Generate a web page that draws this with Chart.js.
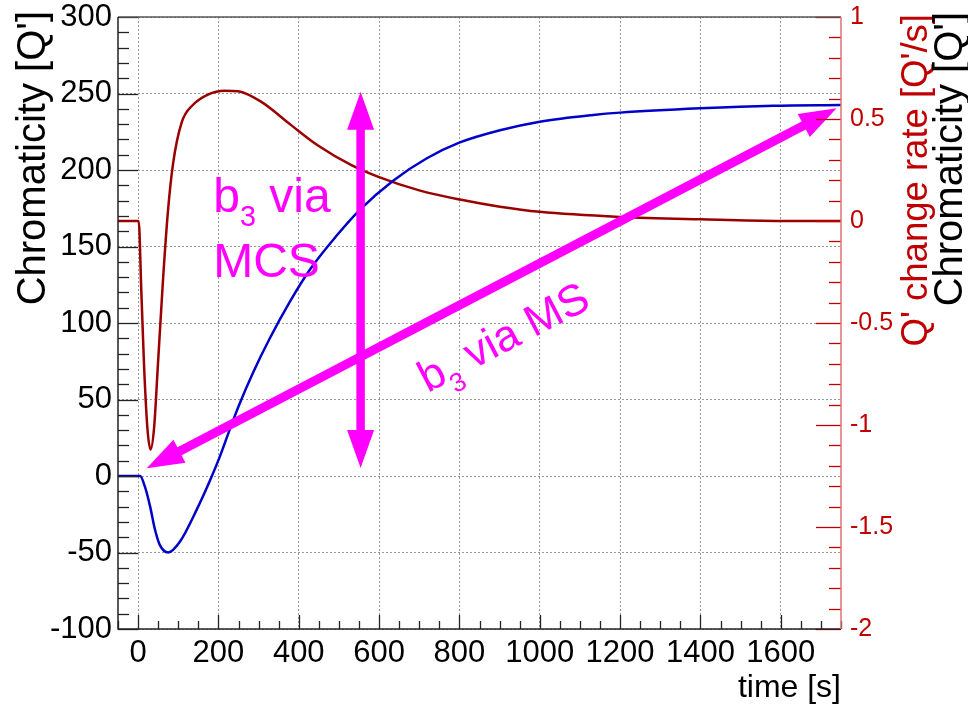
<!DOCTYPE html>
<html><head><meta charset="utf-8">
<script src="https://cdn.jsdelivr.net/npm/chart.js@4/dist/chart.umd.min.js"></script>
<style>html,body{margin:0;padding:0;background:#fff;}canvas{display:block;}</style>
</head><body>
<canvas id="c" width="968" height="707"></canvas>
<script>
// ---- tick labels ----
const timeTicks   = [0, 200, 400, 600, 800, 1000, 1200, 1400, 1600];
const chromaTicks = [-100, -50, 0, 50, 100, 150, 200, 250, 300];
const rateTicks   = [-2, -1.5, -1, -0.5, 0, 0.5, 1];

// ---- blue: chromaticity [Q'] (left axis) ----
const chromaTime  = [-50, 5, 17, 30, 42, 54, 75, 104, 146, 179, 204, 229, 254, 287, 328, 378, 428, 494, 552, 635, 718, 801, 901, 1000, 1133, 1200, 1400, 1581, 1750];
const chromaValue = [0, 0, -7, -20, -35, -45, -50, -43, -22, -3, 13, 31, 48, 68, 90, 114, 135, 157, 174, 193, 207.5, 218, 226, 231.6, 236, 237.5, 240.3, 242, 242.5];

// ---- red: Q' change rate [Q'/s] (right axis) ----
const rateTime  = [-50, 1.5, 8, 14.7, 23, 31, 40, 49.5, 62, 74, 87, 108, 137, 174, 215, 249, 306, 381, 448, 530, 600, 700, 801, 901, 1000, 1200, 1400, 1600, 1750];
const rateValue = [0, 0, -0.34, -0.70, -1.01, -1.12, -1.01, -0.70, -0.29, 0.04, 0.28, 0.48, 0.57, 0.62, 0.639, 0.636, 0.585, 0.47, 0.37, 0.275, 0.215, 0.15, 0.105, 0.07, 0.045, 0.02, 0.008, 0.0, 0.0];

// ---- annotations (data coordinates: time, chromaticity) ----
const arrowMCSTime = [554, 554];
const arrowMCSChroma = [5.2, 251.2];
const arrowMSTime = [21.4, 1739];
const arrowMSChroma = [5.0, 240.3];
const labelMCSAt = [187, 172.7, 130.3];   // time, line-1 baseline, line-2 baseline
const labelMSAt = [908, 91.5];            // time, chromaticity (centre)

const FONT = "'Liberation Sans', Arial, sans-serif";
const MAG = '#ff00ff';
const DARKRED = '#c00000';

function pts(xs, ys) { return xs.map((x, i) => ({x: x, y: ys[i]})); }

function drawArrow(ctx, x1, y1, x2, y2, shaftW, headL, headW) {
  const ang = Math.atan2(y2 - y1, x2 - x1);
  const len = Math.hypot(x2 - x1, y2 - y1);
  ctx.save();
  ctx.translate(x1, y1); ctx.rotate(ang);
  ctx.fillStyle = MAG;
  ctx.fillRect(headL - 1, -shaftW / 2, len - 2 * headL + 2, shaftW);
  ctx.beginPath(); ctx.moveTo(len, 0); ctx.lineTo(len - headL, -headW / 2); ctx.lineTo(len - headL, headW / 2); ctx.closePath(); ctx.fill();
  ctx.beginPath(); ctx.moveTo(0, 0); ctx.lineTo(headL, -headW / 2); ctx.lineTo(headL, headW / 2); ctx.closePath(); ctx.fill();
  ctx.restore();
}

function drawSubLabel(ctx, x, y, parts, size) {
  let cx = x;
  parts.forEach(p => {
    const sz = p[1] ? size * 0.6 : size;
    ctx.font = sz + 'px ' + FONT;
    ctx.fillText(p[0], cx, p[1] ? y + size * 0.3 : y);
    cx += ctx.measureText(p[0]).width;
  });
  return cx - x;
}
function measureSub(ctx, parts, size) {
  let w = 0;
  parts.forEach(p => { ctx.font = (p[1] ? size * 0.6 : size) + 'px ' + FONT; w += ctx.measureText(p[0]).width; });
  return w;
}
function noPad(s) { s.paddingTop = 0; s.paddingBottom = 0; s.paddingLeft = 0; s.paddingRight = 0; }

const decor = {
  id: 'decor',
  afterDatasetsDraw(chart) {
    const ctx = chart.ctx;
    const xs = chart.scales.x, yl = chart.scales.y, yr = chart.scales.y2;
    const a = chart.chartArea;
    ctx.save();
    drawArrow(ctx, xs.getPixelForValue(arrowMCSTime[0]), yl.getPixelForValue(arrowMCSChroma[0]),
                   xs.getPixelForValue(arrowMCSTime[1]), yl.getPixelForValue(arrowMCSChroma[1]), 8.5, 38, 27);
    const mx1 = xs.getPixelForValue(arrowMSTime[0]), my1 = yl.getPixelForValue(arrowMSChroma[0]);
    const mx2 = xs.getPixelForValue(arrowMSTime[1]), my2 = yl.getPixelForValue(arrowMSChroma[1]);
    drawArrow(ctx, mx1, my1, mx2, my2, 9, 37, 26);

    ctx.fillStyle = MAG;
    ctx.textBaseline = 'alphabetic';
    ctx.textAlign = 'left';
    const lx = xs.getPixelForValue(labelMCSAt[0]);
    drawSubLabel(ctx, lx, yl.getPixelForValue(labelMCSAt[1]), [['b', false], ['3', true], [' via', false]], 48);
    drawSubLabel(ctx, lx, yl.getPixelForValue(labelMCSAt[2]), [['MCS', false]], 48);

    const msParts = [['b', false], ['3', true], [' via MS', false]];
    const msSize = 44;
    const w = measureSub(ctx, msParts, msSize);
    ctx.save();
    ctx.translate(xs.getPixelForValue(labelMSAt[0]), yl.getPixelForValue(labelMSAt[1]));
    ctx.rotate(Math.atan2(my2 - my1, mx2 - mx1));
    drawSubLabel(ctx, -w / 2, msSize * 0.36, msParts, msSize);
    ctx.restore();

    // inward ticks
    ctx.lineWidth = 1.3;
    ctx.strokeStyle = '#222';
    for (let v = -50; v <= 1750; v += 50) {
      const p = Math.round(xs.getPixelForValue(v)) + 0.5;
      const L = (v % 200 === 0) ? 14 : 8;
      ctx.beginPath(); ctx.moveTo(p, a.bottom); ctx.lineTo(p, a.bottom - L); ctx.stroke();
    }
    for (let v = -100; v <= 300; v += 10) {
      const p = Math.round(yl.getPixelForValue(v)) + 0.5;
      const L = (v % 50 === 0) ? 20 : 11;
      ctx.beginPath(); ctx.moveTo(a.left, p); ctx.lineTo(a.left + L, p); ctx.stroke();
    }
    ctx.strokeStyle = DARKRED;
    for (let i = -20; i <= 10; i++) {
      const v = i / 10;
      const p = Math.round(yr.getPixelForValue(v)) + 0.5;
      const L = (i % 5 === 0) ? 25 : 12;
      ctx.beginPath(); ctx.moveTo(a.right, p); ctx.lineTo(a.right - L, p); ctx.stroke();
    }
    // frame
    ctx.lineWidth = 1.5;
    ctx.strokeStyle = '#555';
    ctx.beginPath(); ctx.moveTo(a.left, a.top); ctx.lineTo(a.right, a.top); ctx.stroke();
    ctx.strokeStyle = '#222';
    ctx.beginPath(); ctx.moveTo(a.left, a.top); ctx.lineTo(a.left, a.bottom); ctx.lineTo(a.right, a.bottom); ctx.stroke();
    ctx.strokeStyle = '#e07070';
    ctx.beginPath(); ctx.moveTo(a.right, a.top); ctx.lineTo(a.right, a.bottom); ctx.stroke();

    // axis titles
    ctx.font = '32px ' + FONT;
    ctx.textBaseline = 'alphabetic';
    ctx.fillStyle = '#000';
    ctx.textAlign = 'right';
    ctx.fillText('time [s]', a.right, 697);
    function vtext(txt, x, y, color, size) {
      ctx.save(); ctx.translate(x, y); ctx.rotate(-Math.PI / 2);
      ctx.font = size + 'px ' + FONT;
      ctx.fillStyle = color; ctx.textAlign = 'right'; ctx.fillText(txt, 0, 0); ctx.restore();
    }
    vtext("Chromaticity [Q']", 45, 11, '#000', 40);
    vtext("Q' change rate [Q'/s]", 927, 14, DARKRED, 36.5);
    vtext("Chromaticity [Q']", 962, 12, '#000', 40);
    ctx.restore();
  }
};

new Chart(document.getElementById('c'), {
  type: 'line',
  data: {
    datasets: [
      { label: 'Chromaticity', data: pts(chromaTime, chromaValue), yAxisID: 'y',
        borderColor: '#0000c8', borderWidth: 2.5, pointRadius: 0, fill: false, cubicInterpolationMode: 'monotone' },
      { label: 'Q change rate', data: pts(rateTime, rateValue), yAxisID: 'y2',
        borderColor: '#9a0000', borderWidth: 2.5, pointRadius: 0, fill: false, cubicInterpolationMode: 'monotone' }
    ]
  },
  options: {
    responsive: false,
    animation: false,
    devicePixelRatio: 1,
    layout: { padding: { left: 0, right: 0, top: 17, bottom: 0 } },
    plugins: { legend: { display: false }, tooltip: { enabled: false } },
    scales: {
      x: {
        type: 'linear', position: 'bottom', min: -50, max: 1750,
        afterBuildTicks: s => { s.ticks = timeTicks.map(v => ({value: v})); },
        afterFit: s => { s.height = 78; noPad(s); },
        ticks: { font: { family: FONT, size: 31 }, color: '#000', padding: 6, maxRotation: 0, autoSkip: false,
                 callback: v => String(v) },
        grid: { color: '#999', lineWidth: 1, drawTicks: false },
        border: { display: false, dash: [2, 2] }
      },
      y: {
        type: 'linear', position: 'left', min: -100, max: 300,
        afterBuildTicks: s => { s.ticks = chromaTicks.map(v => ({value: v})); },
        afterFit: s => { s.width = 118; noPad(s); },
        ticks: { font: { family: FONT, size: 31 }, color: '#000', padding: 6, autoSkip: false,
                 callback: v => String(v) },
        grid: { color: '#999', lineWidth: 1, drawTicks: false },
        border: { display: false, dash: [2, 2] }
      },
      y2: {
        type: 'linear', position: 'right', min: -2, max: 1,
        afterBuildTicks: s => { s.ticks = rateTicks.map(v => ({value: v})); },
        afterFit: s => { s.width = 127; noPad(s); },
        ticks: { font: { family: FONT, size: 25 }, color: DARKRED, padding: 9, autoSkip: false,
                 callback: v => String(v) },
        grid: { display: false, drawTicks: false },
        border: { display: false }
      }
    }
  },
  plugins: [decor]
});
</script>
</body></html>
